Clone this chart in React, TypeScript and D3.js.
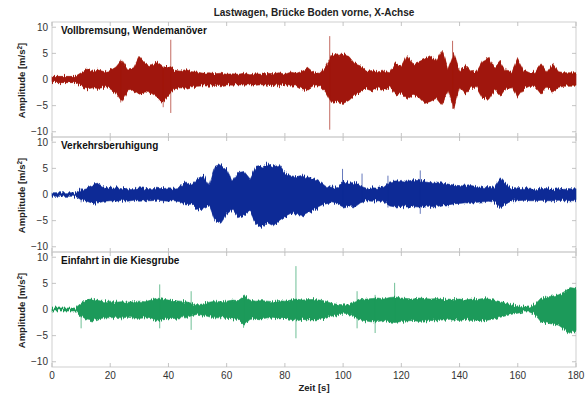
import * as d3 from 'd3';

// sample times of the envelope (s)
const TIMES = d3.range(0, 182, 2);

const PANEL_TITLES = ['Vollbremsung, Wendemanöver', 'Verkehrsberuhigung', 'Einfahrt in die Kiesgrube'];
const PANEL_COLORS = ['#a01407', '#0c2b96', '#1c9a5a'];

// envelope of the acceleration signal, every 2 s
const brakeHigh = [
  0.6, 0.6, 0.6, 0.6, 0.6, 1.3, 2.0, 1.6, 1.8, 1.5, 1.7, 2.4, 3.8, 2.0, 2.2, 4.4, 3.0, 2.6, 3.2, 2.4,
  2.5, 1.8, 1.6, 1.9, 1.5, 1.4, 1.2, 1.3, 1.1, 1.2, 1.0, 1.1, 1.0, 1.2, 0.9, 1.1, 1.0, 1.2, 1.1, 1.3,
  1.0, 1.4, 1.2, 1.6, 2.2, 1.3, 1.2, 2.5, 4.6, 4.9, 4.8, 4.4, 3.0, 2.6, 1.6, 1.7, 1.5, 1.6, 1.3, 3.2,
  2.4, 4.6, 3.0, 3.4, 3.9, 4.6, 3.6, 5.6, 2.0, 5.0, 1.6, 2.7, 1.5, 1.6, 3.6, 4.2, 2.2, 3.5, 1.6, 1.4,
  4.0, 1.8, 1.3, 1.4, 3.0, 1.4, 3.0, 1.5, 1.3, 1.3, 1.3,
];
const brakeLow = [
  -0.6, -0.6, -0.6, -0.6, -0.6, -1.4, -1.8, -1.6, -1.7, -1.5, -1.8, -2.6, -4.2, -2.2, -2.0, -2.8, -2.4, -2.6, -3.3, -4.5,
  -3.0, -1.8, -1.6, -1.7, -1.4, -1.3, -1.2, -1.3, -1.1, -1.2, -1.0, -1.1, -1.0, -1.1, -1.0, -1.1, -1.0, -1.1, -1.2, -1.2,
  -1.0, -1.3, -1.2, -1.8, -2.0, -1.3, -1.2, -2.4, -4.4, -4.2, -4.6, -4.0, -3.0, -2.4, -1.8, -2.2, -1.6, -2.0, -1.4, -3.0,
  -2.6, -3.8, -3.0, -3.4, -4.6, -4.2, -3.6, -5.0, -2.0, -5.4, -1.6, -2.8, -1.5, -1.6, -3.6, -3.8, -2.0, -3.2, -1.6, -1.4,
  -3.4, -1.8, -1.3, -1.4, -2.8, -1.4, -2.4, -1.5, -1.3, -1.3, -1.3,
];

const trafficHigh = [
  0.35, 0.35, 0.35, 0.35, 0.35, 1.0, 1.3, 1.8, 2.0, 1.4, 1.2, 1.3, 1.1, 1.2, 1.1, 1.3, 1.2, 1.1, 1.2, 1.1,
  1.3, 1.2, 1.4, 2.4, 1.8, 3.0, 3.7, 1.8, 5.4, 5.8, 4.8, 2.6, 4.2, 4.4, 3.0, 5.2, 5.4, 5.9, 5.3, 5.6,
  4.0, 3.6, 3.4, 3.7, 3.3, 3.0, 2.4, 1.6, 1.4, 1.5, 2.4, 2.2, 2.3, 1.6, 1.2, 1.3, 1.2, 1.4, 2.4, 2.6,
  2.7, 2.5, 2.8, 2.9, 2.4, 2.3, 2.4, 2.2, 2.0, 1.8, 1.7, 1.6, 1.7, 1.5, 1.4, 1.3, 1.5, 3.2, 2.0, 1.1,
  1.1, 1.2, 1.0, 1.1, 1.2, 1.1, 1.0, 1.1, 1.2, 1.1, 1.1,
];
const trafficLow = [
  -0.35, -0.35, -0.35, -0.35, -0.35, -1.0, -1.3, -1.7, -1.6, -1.3, -1.2, -1.3, -1.1, -1.3, -1.1, -1.3, -1.2, -1.2, -1.1, -1.2,
  -1.3, -1.2, -1.4, -2.0, -1.8, -2.8, -2.6, -2.0, -5.0, -5.5, -3.8, -2.8, -4.4, -4.0, -3.2, -5.6, -6.3, -5.4, -6.0, -5.0,
  -4.2, -3.6, -3.8, -4.0, -3.4, -3.0, -2.4, -1.8, -1.6, -1.8, -2.4, -2.2, -2.4, -1.6, -1.2, -1.3, -1.2, -1.4, -2.2, -2.4,
  -2.3, -2.4, -2.5, -2.6, -2.2, -2.3, -2.4, -2.0, -2.0, -1.8, -1.7, -1.6, -1.7, -1.5, -1.4, -1.3, -1.5, -2.6, -1.8, -1.2,
  -1.2, -1.1, -1.2, -1.2, -1.1, -1.2, -1.2, -1.1, -1.2, -1.2, -1.2,
];

const gravelHigh = [
  0.3, 0.3, 0.3, 0.3, 0.3, 1.2, 1.9, 2.0, 1.7, 1.5, 1.6, 1.4, 1.5, 1.4, 1.5, 1.6, 1.5, 1.8, 2.2, 2.0,
  1.8, 1.7, 1.6, 1.5, 1.2, 0.9, 1.1, 1.4, 1.6, 1.5, 1.6, 1.8, 1.7, 2.6, 1.8, 1.6, 1.7, 1.6, 1.5, 1.7,
  1.6, 1.8, 2.0, 1.8, 1.9, 1.9, 1.8, 1.6, 1.2, 1.0, 0.9, 0.9, 1.4, 1.9, 2.0, 2.1, 2.2, 2.0, 2.3, 2.4,
  2.2, 2.1, 2.0, 2.2, 2.1, 2.0, 2.1, 1.9, 2.0, 1.9, 2.0, 1.8, 2.0, 1.9, 2.1, 2.0, 1.8, 1.5, 1.2, 0.9,
  0.7, 0.5, 0.5, 1.0, 2.2, 2.4, 2.6, 2.8, 3.4, 4.2, 4.0,
];
const gravelLow = [
  -0.3, -0.3, -0.3, -0.3, -0.3, -1.2, -2.0, -2.2, -1.8, -1.6, -1.6, -1.5, -1.6, -1.5, -1.6, -1.7, -1.6, -1.8, -2.2, -2.0,
  -1.8, -1.7, -1.6, -1.6, -1.2, -0.9, -1.1, -1.4, -1.6, -1.6, -1.7, -1.8, -1.9, -3.0, -1.9, -1.7, -1.8, -1.6, -1.7, -1.8,
  -1.7, -1.9, -2.2, -1.9, -2.0, -2.0, -1.9, -1.7, -1.3, -1.0, -0.9, -1.0, -1.5, -2.0, -2.2, -2.4, -2.3, -2.1, -2.4, -2.5,
  -2.3, -2.2, -2.1, -2.3, -2.2, -2.1, -2.2, -2.0, -2.1, -2.0, -2.1, -1.9, -2.1, -2.0, -2.2, -2.0, -1.8, -1.5, -1.2, -0.9,
  -0.7, -0.5, -0.5, -1.0, -2.4, -2.6, -2.8, -3.0, -3.8, -4.6, -4.2,
];

// single peaks: [time, max, min]
const brakeSpikes = [[23.6, 3.8, -4.4], [38.2, 2.5, -5.3], [40.8, 7.6, -6.4], [95.4, 8.3, -9.6], [137.6, 7.4, -5.6]];
const trafficSpikes = [[10, 1.2, -1.5], [99.8, 4.9, -2.0], [106.5, 4.0, -1.5], [115.4, 3.6, -2.5], [126.5, 4.6, -3.7]];
const gravelSpikes = [
  [10, 0.5, -3.6], [37, 4.8, -3.6], [47.8, 3.5, -3.9], [65.8, 2.5, -3.5], [83.8, 8.3, -5.5],
  [104.8, 3.5, -3.6], [111, 2.8, -4.5], [117.7, 5.1, -2.5],
];

const HIGHS = [brakeHigh, trafficHigh, gravelHigh];
const LOWS = [brakeLow, trafficLow, gravelLow];
const SPIKES = [brakeSpikes, trafficSpikes, gravelSpikes];

const X_TICKS = d3.range(0, 181, 20);
const Y_TICKS = [-10, -5, 0, 5, 10];

const FONT = '"Liberation Sans", Arial, Helvetica, sans-serif';

const fmt = (v: number) => (v < 0 ? '\u2212' + Math.abs(v) : String(v));

export default function App() {
  const width = 586;
  const height = 393;
  const left = 52;
  const right = 576;
  const top = 22;
  const panelH = 115;

  const x = d3.scaleLinear().domain([0, 180]).range([left, right]);

  return (
    <svg
      width={width}
      height={height}
      style={{ position: 'absolute', left: 0, top: 0, background: '#fff', fontFamily: FONT }}
    >
      <defs>
        {/* rough, column-wise edge so the band reads like a dense signal trace */}
        <filter id="rough" x="-1%" y="-40%" width="102%" height="180%">
          <feTurbulence type="fractalNoise" baseFrequency="0.9 0.04" numOctaves={2} seed={3} result="noise" />
          <feColorMatrix
            in="noise"
            type="matrix"
            values="1 0 0 0 0  0 0 0 0 0.5  0 0 0 0 0  0 0 0 0 1"
            result="shift"
          />
          <feDisplacementMap in="SourceGraphic" in2="shift" scale={7} xChannelSelector="G" yChannelSelector="R" />
        </filter>
      </defs>

      <text x={314} y={16} textAnchor="middle" fontSize={10} fontWeight="bold" fill="#222">
        Lastwagen, Brücke Boden vorne, X-Achse
      </text>

      {PANEL_TITLES.map((title, i) => {
        const y0 = top + i * panelH;
        const y = d3.scaleLinear().domain([-11, 11]).range([y0 + panelH, y0]);
        const pts = TIMES.map((t, k) => ({ t, hi: HIGHS[i][k], lo: LOWS[i][k] }));
        const area = d3
          .area<{ t: number; hi: number; lo: number }>()
          .x((d) => x(d.t))
          .y0((d) => y(d.lo))
          .y1((d) => y(d.hi));
        const color = PANEL_COLORS[i];
        return (
          <g key={title}>
            <rect x={left} y={y0} width={right - left} height={panelH} fill="none" stroke="#cfcfcf" strokeWidth={1} />
            {X_TICKS.map((t) => (
              <g key={'x' + t} stroke="#b5b5b5" strokeWidth={0.8}>
                <line x1={x(t)} x2={x(t)} y1={y0 + panelH} y2={y0 + panelH - 4} />
                <line x1={x(t)} x2={x(t)} y1={y0} y2={y0 + 4} />
              </g>
            ))}
            {Y_TICKS.map((v) => (
              <g key={'y' + v}>
                <line x1={left} x2={left + 4} y1={y(v)} y2={y(v)} stroke="#b5b5b5" strokeWidth={0.8} />
                <line x1={right} x2={right - 4} y1={y(v)} y2={y(v)} stroke="#b5b5b5" strokeWidth={0.8} />
                <text x={48} y={y(v) + 3.5} textAnchor="end" fontSize={10} fill="#333">
                  {fmt(v)}
                </text>
              </g>
            ))}
            <g filter="url(#rough)">
              <path d={area(pts) || ''} fill={color} stroke={color} strokeOpacity={0.55} strokeWidth={1} strokeLinejoin="round" />
            </g>
            {SPIKES[i].map(([t, hi, lo]) => (
              <line key={'s' + t} x1={x(t)} x2={x(t)} y1={y(hi)} y2={y(lo)} stroke={color} strokeWidth={0.8} strokeOpacity={0.8} />
            ))}
            <text x={61} y={y0 + 11.5} fontSize={10} fontWeight="bold" fill="#111">
              {title}
            </text>
            <text
              transform={`translate(25,${y0 + panelH / 2 + 1}) rotate(-90)`}
              textAnchor="middle"
              fontSize={9.5}
              fontWeight="bold"
              fill="#222"
            >
              Amplitude [m/s<tspan dy={-3} fontSize={6.5}>2</tspan>
              <tspan dy={3}>]</tspan>
            </text>
          </g>
        );
      })}

      {X_TICKS.map((t) => (
        <text key={'xl' + t} x={x(t)} y={379} textAnchor="middle" fontSize={10} fill="#333">
          {t}
        </text>
      ))}
      <text x={314} y={391} textAnchor="middle" fontSize={9.5} fontWeight="bold" fill="#222">
        Zeit [s]
      </text>
    </svg>
  );
}
